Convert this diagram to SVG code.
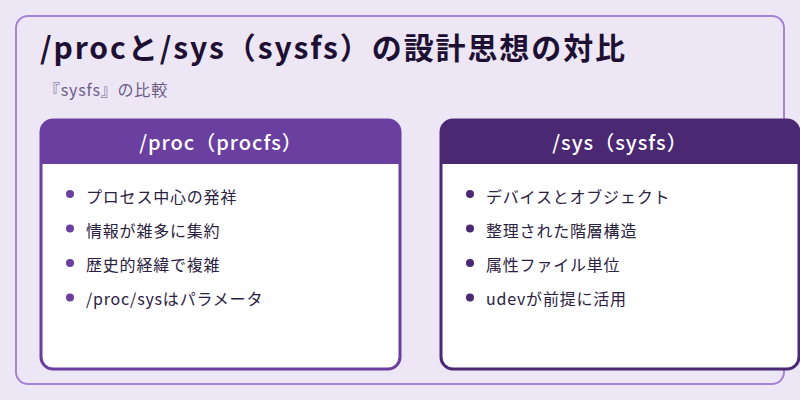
<svg xmlns="http://www.w3.org/2000/svg" width="800" height="400" viewBox="0 0 800 400">
<defs>
<style>
text{font-family:"Noto Sans CJK JP","Noto Sans",sans-serif;letter-spacing:0.05em}
.title{font-size:30px;font-weight:700;fill:#1e1033;letter-spacing:1.9px}
.sub{font-size:16px;fill:#6b5d88}
.hdr{font-size:20px;font-weight:500;fill:#ffffff;text-anchor:middle}
.item{font-size:16px;fill:#2a2040}
.card{fill:none;stroke-width:3}
</style>
</defs>
<rect width="800" height="400" fill="#ede6f5"/>
<rect x="16" y="16" width="768" height="368" rx="12" fill="none" stroke="#a385d3" stroke-width="2"/>
<text class="title" x="40" y="59">/procと/sys（sysfs）の設計思想の対比</text>
<text class="sub" x="44" y="96">『sysfs』の比較</text>
<g id="connectors"></g>
<g id="proc">
<rect x="41" y="120" width="359" height="249" rx="12" fill="#ffffff"/>
<path d="M41,164 V132 A12,12 0 0 1 53,120 H388 A12,12 0 0 1 400,132 V164 Z" fill="#6b3fa0"/>
<rect class="card" x="41" y="120" width="359" height="249" rx="12" stroke="#6b3fa0"/>
<text class="hdr" x="221" y="150">/proc（procfs）</text>
<g fill="#6b3fa0">
<circle cx="70" cy="194" r="4"/><circle cx="70" cy="228.5" r="4"/><circle cx="70" cy="263" r="4"/><circle cx="70" cy="297.5" r="4"/>
</g>
<text class="item" x="86" y="203">プロセス中心の発祥</text>
<text class="item" x="86" y="237">情報が雑多に集約</text>
<text class="item" x="86" y="271">歴史的経緯で複雑</text>
<text class="item" x="86" y="305">/proc/sysはパラメータ</text>
</g>
<g id="sys">
<rect x="441" y="120" width="358" height="249" rx="12" fill="#ffffff"/>
<path d="M441,164 V132 A12,12 0 0 1 453,120 H787 A12,12 0 0 1 799,132 V164 Z" fill="#4a2872"/>
<rect class="card" x="441" y="120" width="358" height="249" rx="12" stroke="#4a2872"/>
<text class="hdr" x="620" y="150">/sys（sysfs）</text>
<g fill="#4a2872">
<circle cx="470" cy="194" r="4"/><circle cx="470" cy="228.5" r="4"/><circle cx="470" cy="263" r="4"/><circle cx="470" cy="297.5" r="4"/>
</g>
<text class="item" x="486" y="203">デバイスとオブジェクト</text>
<text class="item" x="486" y="237">整理された階層構造</text>
<text class="item" x="486" y="271">属性ファイル単位</text>
<text class="item" x="486" y="305">udevが前提に活用</text>
</g>
</svg>
